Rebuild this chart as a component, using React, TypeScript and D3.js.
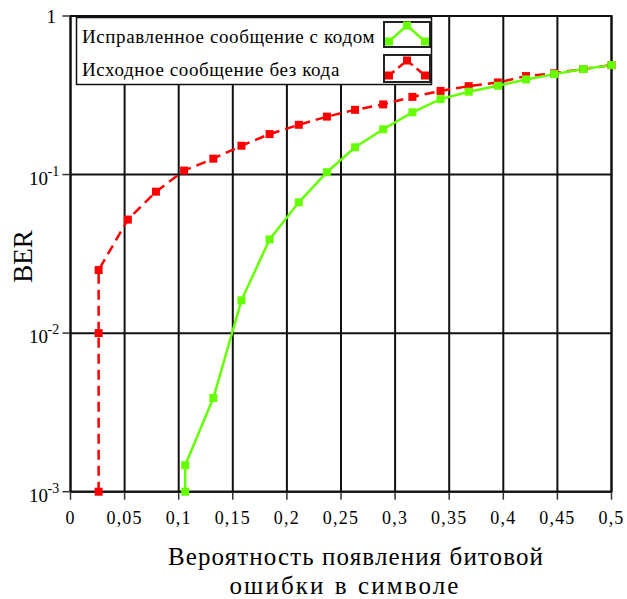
import React from "react";
import * as d3 from "d3";

// Series: coded (green) and uncoded (red)
const codedX = [0.106, 0.106, 0.132, 0.158, 0.184, 0.211, 0.237, 0.263, 0.289, 0.316, 0.342, 0.368, 0.395, 0.421, 0.447, 0.474, 0.5];
const codedY = [0.001, 0.00147, 0.0039, 0.0161, 0.039, 0.0668, 0.1035, 0.1486, 0.193, 0.247, 0.299, 0.333, 0.363, 0.398, 0.43, 0.463, 0.49];

const rawX = [0.026, 0.026, 0.026, 0.053, 0.079, 0.105, 0.132, 0.158, 0.184, 0.211, 0.237, 0.263, 0.289, 0.316, 0.342, 0.368, 0.395, 0.421, 0.447, 0.474, 0.5];
const rawY = [0.001, 0.01, 0.025, 0.052, 0.078, 0.106, 0.126, 0.152, 0.18, 0.206, 0.232, 0.256, 0.277, 0.309, 0.337, 0.361, 0.381, 0.418, 0.435, 0.463, 0.49];

const xTicks = [0, 0.05, 0.1, 0.15, 0.2, 0.25, 0.3, 0.35, 0.4, 0.45, 0.5];
const xTickLabels = ["0", "0,05", "0,1", "0,15", "0,2", "0,25", "0,3", "0,35", "0,4", "0,45", "0,5"];
const yTicks = [1, 0.1, 0.01, 0.001];
const yTickExp = ["", "-1", "-2", "-3"];

const legendLabels = ["Исправленное сообщение с кодом", "Исходное сообщение без кода"];
const yTitle = "BER";
const xTitle = ["Вероятность появления битовой", "ошибки в символе"];

const GREEN = "#66ff00";
const RED = "#ff0000";
const FONT = "'Liberation Serif', 'Times New Roman', serif";

export default function App() {
  const left = 70.5, right = 611.5, top = 16, bottom = 491.7;
  const x = d3.scaleLinear().domain([0, 0.5]).range([left, right]);
  const y = d3.scaleLog().domain([0.001, 1]).range([bottom, top]);

  const line = d3.line<[number, number]>().x((d) => x(d[0])).y((d) => y(d[1]));
  const coded: [number, number][] = codedX.map((v, i) => [v, codedY[i]]);
  const raw: [number, number][] = rawX.map((v, i) => [v, rawY[i]]);

  const ms = 8;

  const legendMarker = (cx: number, cy: number, color: string, key: string) => (
    <rect key={key} x={cx - 4} y={cy - 4} width={8} height={8} fill={color} />
  );

  return (
    <svg width={627} height={599} style={{ position: "absolute", left: 0, top: 0, background: "#fff", fontFamily: FONT }} fontFamily={FONT}>
      <rect x={0} y={0} width={627} height={599} fill="#fff" />
      {/* grid */}
      {xTicks.map((t, i) => (
        <line key={"gx" + i} x1={x(t)} x2={x(t)} y1={top} y2={bottom} stroke="#111" strokeWidth={2} />
      ))}
      {yTicks.map((t, i) => (
        <line key={"gy" + i} x1={left} x2={right} y1={y(t)} y2={y(t)} stroke="#111" strokeWidth={2} />
      ))}
      {/* frame */}
      <rect x={left} y={top} width={right - left} height={bottom - top} fill="none" stroke="#111" strokeWidth={2} />
      {/* ticks */}
      {xTicks.map((t, i) => (
        <line key={"tx" + i} x1={x(t)} x2={x(t)} y1={bottom + 1} y2={bottom + 8} stroke="#333" strokeWidth={1.5} />
      ))}
      {yTicks.map((t, i) => (
        <line key={"ty" + i} x1={left - 8} x2={left - 1} y1={y(t)} y2={y(t)} stroke="#333" strokeWidth={1.5} />
      ))}
      {/* x tick labels */}
      {xTicks.map((t, i) => (
        <text key={"lx" + i} x={x(t)} y={524} textAnchor="middle" fontSize={18} letterSpacing={1.2}>
          {xTickLabels[i]}
        </text>
      ))}
      {/* y tick labels */}
      {yTicks.map((t, i) =>
        yTickExp[i] === "" ? (
          <text key={"ly" + i} x={56} y={y(t) + 7} textAnchor="end" fontSize={19}>1</text>
        ) : (
          <g key={"ly" + i}>
            <text x={48} y={y(t) + 10} textAnchor="end" fontSize={19}>10</text>
            <text x={47.5} y={y(t) + 1} textAnchor="start" fontSize={14}>{yTickExp[i]}</text>
          </g>
        )
      )}
      {/* series */}
      <path d={line(raw) || ""} fill="none" stroke={RED} strokeWidth={2.5} strokeDasharray="10,6" />
      <path d={line(coded) || ""} fill="none" stroke={GREEN} strokeWidth={2.5} />
      {raw.map((d, i) => (
        <rect key={"mr" + i} x={x(d[0]) - ms / 2} y={y(d[1]) - ms / 2} width={ms} height={ms} fill={RED} />
      ))}
      {coded.map((d, i) => (
        <rect key={"mg" + i} x={x(d[0]) - ms / 2} y={y(d[1]) - ms / 2} width={ms} height={ms} fill={GREEN} />
      ))}
      {/* legend */}
      <rect x={76.5} y={17.5} width={355} height={67} fill="#fff" stroke="#111" strokeWidth={1.5} />
      <text x={82} y={43} fontSize={19} letterSpacing={0.6}>{legendLabels[0]}</text>
      <text x={82} y={76} fontSize={19} letterSpacing={0.6}>{legendLabels[1]}</text>
      <rect x={384} y={22} width={46} height={25} fill="#fff" stroke="#222" strokeWidth={2} />
      <rect x={384} y={55} width={46} height={27} fill="#fff" stroke="#222" strokeWidth={2} />
      <polyline points="389,41.5 407,25.5 425,41.5" fill="none" stroke={GREEN} strokeWidth={2.5} />
      {legendMarker(389, 41.5, GREEN, "lg1")}
      {legendMarker(407, 25.5, GREEN, "lg2")}
      {legendMarker(425, 41.5, GREEN, "lg3")}
      <polyline points="389,75.5 407,60.5 425,75.5" fill="none" stroke={RED} strokeWidth={2.5} strokeDasharray="7,5" />
      {legendMarker(389, 75.5, RED, "lr1")}
      {legendMarker(407, 60.5, RED, "lr2")}
      {legendMarker(425, 75.5, RED, "lr3")}
      {/* axis titles */}
      <text transform="translate(31.5,256.5) rotate(-90)" textAnchor="middle" fontSize={27}>{yTitle}</text>
      <text x={356} y={565} textAnchor="middle" fontSize={25} letterSpacing={1.1}>{xTitle[0]}</text>
      <text x={345} y={594} textAnchor="middle" fontSize={25} letterSpacing={2.1} wordSpacing={1}>{xTitle[1]}</text>
    </svg>
  );
}
